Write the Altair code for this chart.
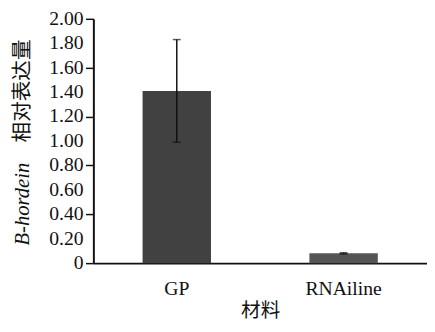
import altair as alt
import pandas as pd

materials = ["GP", "RNAiline"]
means = [1.41, 0.08]
errors = [0.42, 0.005]
bar_colors = ["#414141", "#555555"]
y_ticks = [0, 0.2, 0.4, 0.6, 0.8, 1.0, 1.2, 1.4, 1.6, 1.8, 2.0]
y_tick_labels = ["0", "0.20", "0.40", "0.60", "0.80", "1.00", "1.20", "1.40", "1.60", "1.80", "2.00"]

df = pd.DataFrame({
    "material": materials,
    "mean": means,
    "lo": [m - e for m, e in zip(means, errors)],
    "hi": [m + e for m, e in zip(means, errors)],
    "color": bar_colors,
})
ticks_df = pd.DataFrame({"v": y_ticks, "lab": y_tick_labels})

SERIF = "Liberation Serif"
CJK = "Noto Sans CJK SC"

x_scale = alt.Scale(paddingInner=0.59, paddingOuter=0.295)
y_scale = alt.Scale(domain=[0, 2], nice=False)

base = alt.Chart(df)

bars = base.mark_bar().encode(
    x=alt.X("material:N", sort=materials, scale=x_scale, title="材料"),
    y=alt.Y("mean:Q", scale=y_scale, title=None,
            axis=alt.Axis(values=y_ticks, labels=False)),
    color=alt.Color("color:N", scale=None),
)

rules = base.mark_rule(color="#111111", strokeWidth=1.5).encode(
    x=alt.X("material:N", sort=materials),
    y=alt.Y("lo:Q"),
    y2="hi:Q",
)

caps_hi = base.mark_tick(color="#111111", thickness=1.5, size=8, orient="horizontal").encode(
    x=alt.X("material:N", sort=materials),
    y=alt.Y("hi:Q"),
)
caps_lo = base.mark_tick(color="#111111", thickness=1.5, size=8, orient="horizontal").encode(
    x=alt.X("material:N", sort=materials),
    y=alt.Y("lo:Q"),
)

ylabels = alt.Chart(ticks_df).mark_text(
    font=SERIF, fontSize=20, align="right", baseline="middle", color="#111111", dx=-10,
).encode(
    y=alt.Y("v:Q"),
    x=alt.value(0),
    text="lab:N",
)

title_it = alt.Chart(pd.DataFrame({"t": ["B-hordein"]})).mark_text(
    font=SERIF, fontSize=21, fontStyle="italic", angle=270, align="left",
    baseline="middle", color="#111111",
).encode(text="t:N", x=alt.value(-72), y=alt.value(231))

title_cn = alt.Chart(pd.DataFrame({"t": ["相对表达量"]})).mark_text(
    font=CJK, fontSize=21, angle=270, align="left",
    baseline="middle", color="#111111",
).encode(text="t:N", x=alt.value(-72), y=alt.value(126))

chart = alt.layer(bars, rules, caps_hi, caps_lo, ylabels, title_it, title_cn).properties(
    width=340,
    height=249,
    autosize=alt.AutoSizeParams(type="none"),
    padding={"left": 87, "top": 8, "right": 0, "bottom": 59},
    background="white",
).configure_view(
    stroke=None
).configure_axis(
    grid=False,
    labelFont=SERIF, labelFontSize=20, labelColor="#111111",
    domainColor="#111111", domainWidth=2,
    tickColor="#111111", tickWidth=1.5,
    titleFont=CJK, titleFontSize=20, titleFontWeight="normal", titleColor="#111111",
).configure_axisY(
    tickSize=8,
).configure_axisX(
    labelAngle=0, labelPadding=16, ticks=False, titlePadding=2,
)

chart.save("out.html", embed_options={"renderer": "svg", "actions": False})
